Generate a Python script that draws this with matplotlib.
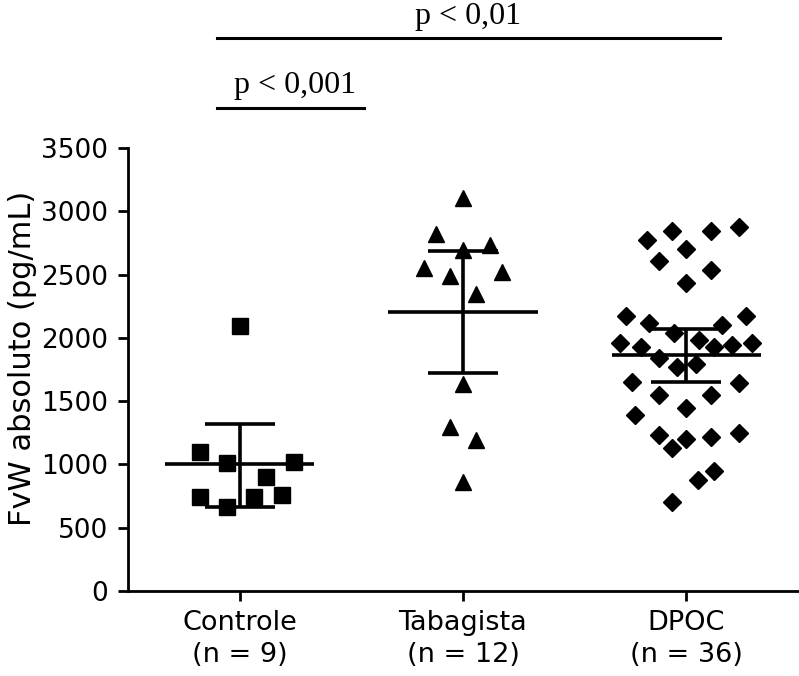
import matplotlib
matplotlib.use("Agg")
import matplotlib.pyplot as plt
import numpy as np

# groups
categories = ["Controle\n(n = 9)", "Tabagista\n(n = 12)", "DPOC\n(n = 36)"]

controle = [2094, 1101, 1009, 1022, 903, 745, 740, 758, 661]
controle_dx = [0, -0.176, -0.057, 0.242, 0.12, -0.176, 0.063, 0.188, -0.057]

tabagista = [3103, 2820, 2734, 2694, 2550, 2518, 2491, 2347, 1635, 1298, 1193, 864]
tabagista_dx = [0, -0.12, 0.12, 0, -0.176, 0.176, -0.06, 0.06, 0, -0.06, 0.06, 0]

dpoc = [2773, 2847, 2847, 2878, 2700, 2610, 2536, 2431, 2175, 2175, 2115, 2102,
        2036, 1983, 1962, 1962, 1930, 1944, 1925, 1843, 1767, 1793, 1654, 1641,
        1549, 1549, 1443, 1391, 1233, 1246, 1199, 1214, 1127, 951, 877, 706]
dpoc_dx = [-0.175, -0.063, 0.112, 0.236, 0, -0.122, 0.112, 0, -0.272, 0.266,
           -0.165, 0.161, -0.055, 0.057, -0.295, 0.293, -0.205, 0.206, 0.124,
           -0.122, -0.04, 0.042, -0.245, 0.236, -0.122, 0.112, 0, -0.23, -0.122,
           0.236, 0, 0.112, -0.063, 0.124, 0.054, -0.063]

means = [1005, 2204, 1862]
ci_low = [666, 1725, 1654]
ci_high = [1317, 2686, 2070]

yticks = [0, 500, 1000, 1500, 2000, 2500, 3000, 3500]

fig = plt.figure(figsize=(7.99, 6.76), dpi=100)
ax = fig.add_axes([128 / 799, 85 / 676, 670 / 799, 443 / 676])

groups = [(controle, controle_dx, "s", 11), (tabagista, tabagista_dx, "^", 11),
          (dpoc, dpoc_dx, "D", 9)]
for i, (vals, dx, mk, ms) in enumerate(groups):
    ax.plot(i + np.array(dx), vals, ls="none", marker=mk, ms=ms,
            color="black", mec="black", zorder=3)
    ax.hlines(means[i], i - 0.335, i + 0.335, color="black", lw=2.6, zorder=2)
    ax.vlines(i, ci_low[i], ci_high[i], color="black", lw=2.6, zorder=2)
    ax.hlines([ci_low[i], ci_high[i]], i - 0.157, i + 0.157, color="black",
              lw=2.6, zorder=2)

ax.set_xlim(-0.5, 2.5)
ax.set_ylim(0, 3500)
ax.set_yticks(yticks)
ax.set_yticklabels([str(v) for v in yticks], family="DejaVu Sans", fontsize=19)
ax.set_xticks(range(len(categories)))
ax.set_xticklabels(categories, family="DejaVu Sans", fontsize=19.5,
                   linespacing=1.3)
ax.tick_params(axis="both", direction="out", length=7.5, width=2, color="black")
ax.tick_params(axis="y", pad=7)
ax.tick_params(axis="x", pad=6)
for s in ["top", "right"]:
    ax.spines[s].set_visible(False)
for s in ["left", "bottom"]:
    ax.spines[s].set_linewidth(2)

ax.set_ylabel("FvW absoluto (pg/mL)", family="DejaVu Sans", fontsize=22)
ax.yaxis.set_label_coords(-0.136, 0.525)

# significance brackets
ax.plot([-0.1, 0.556], [3814, 3814], color="black", lw=2.2, clip_on=False)
ax.text(0.247, 3935, "p < 0,001", ha="center", va="baseline",
        family="Liberation Serif", fontsize=23, clip_on=False)
ax.plot([-0.1, 2.152], [4367, 4367], color="black", lw=2.2, clip_on=False)
ax.text(1.022, 4480, "p < 0,01", ha="center", va="baseline",
        family="Liberation Serif", fontsize=23, clip_on=False)

fig.savefig("out.png", dpi=100, facecolor="white")
